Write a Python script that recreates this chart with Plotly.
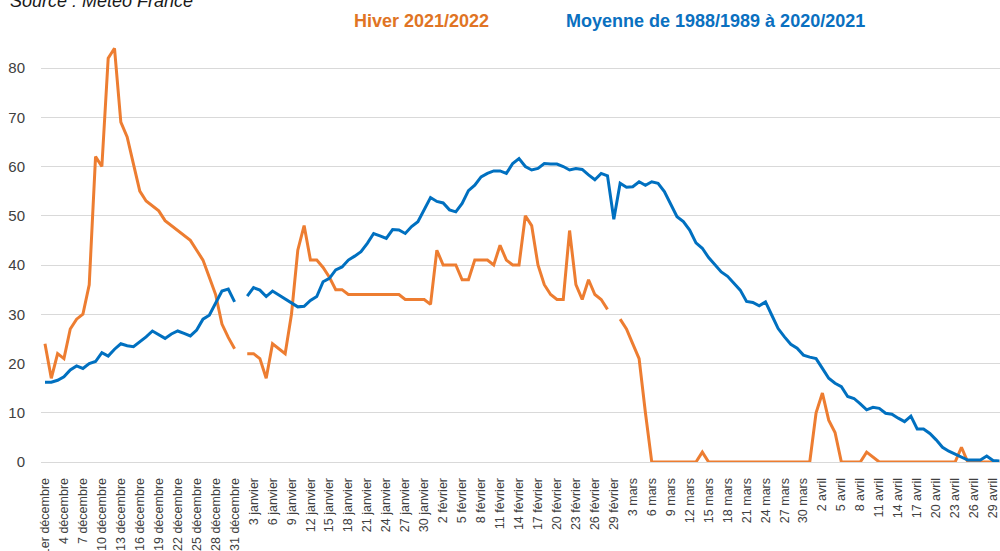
import plotly.graph_objects as go

# Categories: every day from 1er décembre to 30 avril (février with 29 days, as in the source)
months = ["décembre", "janvier", "février", "mars", "avril"]
month_days = [31, 31, 29, 31, 30]
days = []
for m, n in zip(months, month_days):
    for d in range(1, n + 1):
        days.append(("1er" if d == 1 else str(d)) + " " + m)

# Hiver 2021/2022 (None = no data)
hiver_2021_2022 = [
    24, 17, 22, 21, 27, 29, 30, 36, 62, 60,
    82, 84, 69, 66, 60.5, 55, 53, 52, 51, 49,
    48, 47, 46, 45, 43, 41, 37.5, 34, 28, 25.3,
    23, None, 22, 22, 21, 17, 24, 23, 22, 30,
    43, 48, 41, 41, 39.5, 37.5, 35, 35, 34, 34,
    34, 34, 34, 34, 34, 34, 34, 33, 33, 33,
    33, 32, 43, 40, 40, 40, 37, 37, 41, 41,
    41, 40, 44, 41, 40, 40, 50, 48, 40, 36,
    34, 33, 33, 47, 36, 33, 37, 34, 33, 31,
    None, 29, 27, 24, 21, 10, 0, 0, 0, 0,
    0, 0, 0, 0, 2, 0, 0, 0, 0, 0,
    0, 0, 0, 0, 0, 0, 0, 0, 0, 0,
    0, 0, 10, 14, 8.5, 6, 0, 0, 0, 0,
    2, 1, 0, 0, 0, 0, 0, 0, 0, 0,
    0, 0, 0, 0, 0, 3, 0, 0, 0, 0,
    0, 0,
]

# Moyenne de 1988/1989 à 2020/2021
moyenne_1988_2021 = [
    16.2, 16.2, 16.6, 17.3, 18.7, 19.5, 19, 20, 20.4, 22.2,
    21.5, 22.9, 24, 23.6, 23.4, 24.4, 25.4, 26.6, 25.8, 25.1,
    26, 26.6, 26.1, 25.6, 26.8, 29, 29.8, 32.2, 34.7, 35.1,
    32.5, None, 33.7, 35.4, 34.9, 33.6, 34.7, 33.9, 33.1, 32.2,
    31.5, 31.6, 32.8, 33.6, 36.6, 37.3, 39, 39.6, 41, 41.8,
    42.7, 44.4, 46.4, 45.9, 45.4, 47.2, 47.1, 46.4, 47.8, 48.8,
    51.2, 53.7, 52.9, 52.6, 51.2, 50.8, 52.5, 55.1, 56.2, 57.9,
    58.6, 59.1, 59.1, 58.6, 60.6, 61.6, 60, 59.3, 59.6, 60.6,
    60.5, 60.5, 60, 59.3, 59.6, 59.4, 58.3, 57.3, 58.6, 58.1,
    49.3, 56.6, 55.8, 55.9, 56.9, 56.2, 56.9, 56.6, 54.9, 52.5,
    49.8, 48.8, 47.1, 44.5, 43.4, 41.5, 40, 38.6, 37.7, 36.3,
    34.9, 32.6, 32.4, 31.7, 32.5, 29.8, 27.1, 25.4, 23.9, 23.1,
    21.7, 21.3, 21, 19, 17, 16, 15.3, 13.3, 12.9, 11.8,
    10.6, 11.1, 10.9, 9.9, 9.7, 8.9, 8.2, 9.3, 6.7, 6.7,
    5.8, 4.5, 3, 2.2, 1.6, 1, 0.4, 0.4, 0.4, 1.2,
    0.3, 0.2,
]

y_ticks = [0, 10, 20, 30, 40, 50, 60, 70, 80]

idx = list(range(len(days)))
tick_idx = idx[::3]
tick_txt = [days[i] for i in tick_idx]

ORANGE = "#ED7D31"
BLUE = "#0070C0"
FONT = "Liberation Sans, Arial, sans-serif"

fig = go.Figure()
fig.add_trace(go.Scatter(x=idx, y=hiver_2021_2022, mode="lines", name="Hiver 2021/2022",
                         line=dict(color=ORANGE, width=3), connectgaps=False))
fig.add_trace(go.Scatter(x=idx, y=moyenne_1988_2021, mode="lines", name="Moyenne de 1988/1989 à 2020/2021",
                         line=dict(color=BLUE, width=3), connectgaps=False))

# The figure is a little wider than the window so that the right edge is cropped like the reference
FIG_W = 1016
top_px, bot_px, left_px, right_px = 30, 462, 41, 1000
H = bot_px - top_px

def py(p):
    return (bot_px - p) / H

def px(p):
    return (p - left_px) / (right_px - left_px)

fig.update_layout(
    width=FIG_W, height=551,
    margin=dict(l=left_px, r=FIG_W - right_px, t=top_px, b=551 - bot_px, autoexpand=False),
    paper_bgcolor="white", plot_bgcolor="white",
    showlegend=False,
    font=dict(family=FONT, color="#404040"),
    xaxis=dict(
        range=[-0.63, 151.1],
        tickmode="array", tickvals=tick_idx, ticktext=tick_txt,
        tickangle=-90, tickfont=dict(size=12.5, color="#404040", family=FONT),
        showgrid=False, zeroline=False,
        showline=True, linecolor="#D9D9D9", linewidth=1,
        ticks="", ticklabelstandoff=10,
    ),
    yaxis=dict(
        range=[0, H / 49.25 * 10],
        tickmode="array", tickvals=y_ticks,
        tickfont=dict(size=15, color="#404040", family=FONT),
        showgrid=True, gridcolor="#D9D9D9", gridwidth=1,
        zeroline=False, showline=False, ticks="",
        ticklabelstandoff=15,
    ),
    annotations=[
        dict(text="Hiver 2021/2022", x=px(421), y=py(21), xref="paper", yref="paper",
             xanchor="center", yanchor="middle", showarrow=False,
             font=dict(size=18, color="#E07424", family=FONT, weight="bold")),
        dict(text="Moyenne de 1988/1989 à 2020/2021", x=px(715), y=py(21), xref="paper", yref="paper",
             xanchor="center", yanchor="middle", showarrow=False,
             font=dict(size=18, color="#0A70C0", family=FONT, weight="bold")),
        dict(text="<i>Source : Météo France</i>", x=px(8), y=py(1), xref="paper", yref="paper",
             xanchor="left", yanchor="middle", showarrow=False,
             font=dict(size=18, color="#1a1a1a", family=FONT)),
    ],
)

fig.write_html("out.html", config={"displayModeBar": False},
               post_script="document.body.style.margin='0';document.body.style.overflow='hidden';")
